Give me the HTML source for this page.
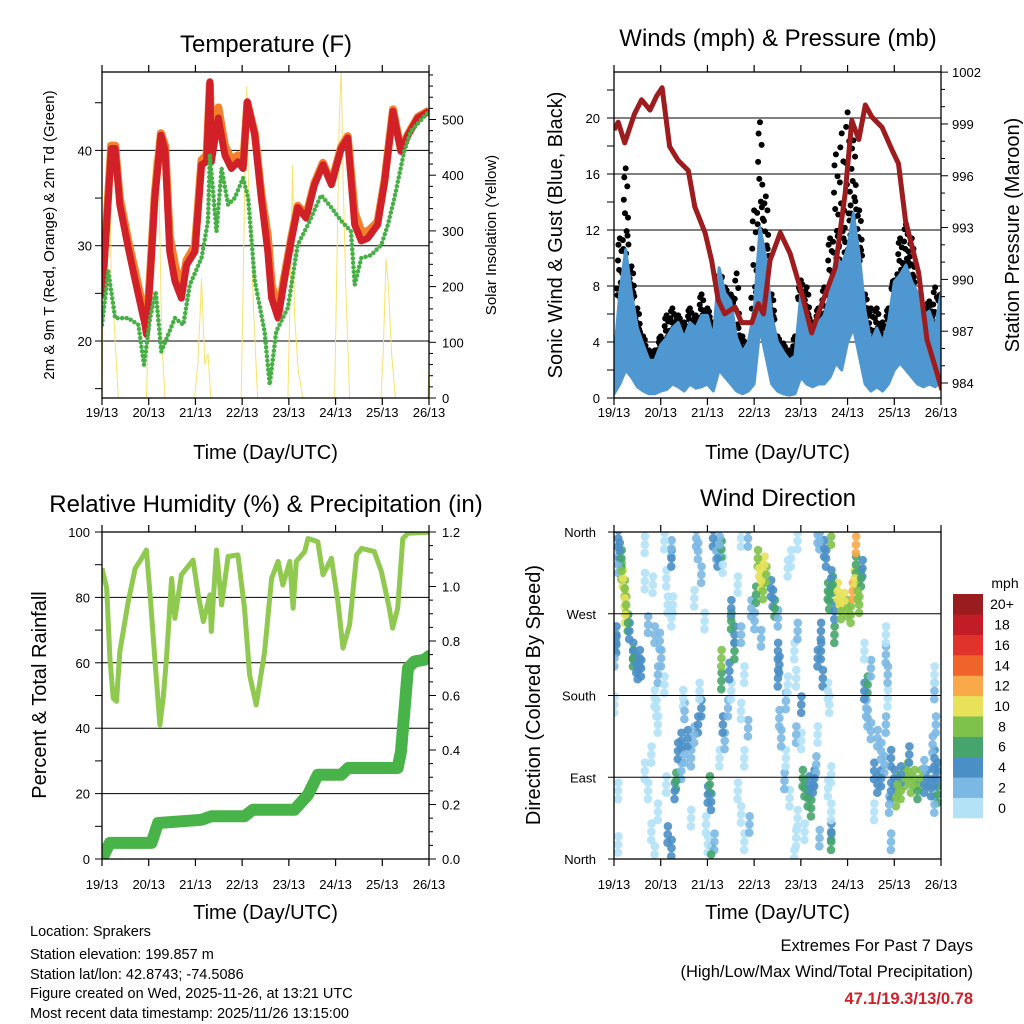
<!DOCTYPE html>
<html><head><meta charset="utf-8"><style>
body{margin:0;background:#fff}
svg{display:block;font-family:"Liberation Sans",Arial,sans-serif}
</style></head><body>
<svg id="s" width="1024" height="1024" viewBox="0 0 1024 1024">
<defs>
<clipPath id="c1"><rect x="102" y="72" width="327" height="326"/></clipPath>
<clipPath id="c2"><rect x="614" y="72" width="327" height="326"/></clipPath>
<clipPath id="c3"><rect x="102" y="532" width="327" height="327"/></clipPath>
<clipPath id="c4"><rect x="614" y="532" width="327" height="327"/></clipPath>
</defs>
<g id="g"></g>
</svg>
<script>
// ---------- data ----------
const dayLabels = ["19/13","20/13","21/13","22/13","23/13","24/13","25/13","26/13"];
const tempT = [0,0.135,0.2,0.28,0.38,0.56,0.7,0.92,0.95,1.03,1.13,1.26,1.35,1.45,1.56,1.7,1.81,1.99,2.13,2.24,2.31,2.34,2.49,2.63,2.77,2.91,3.02,3.11,3.27,3.41,3.55,3.63,3.77,3.91,4.05,4.19,4.37,4.55,4.73,4.91,5.12,5.26,5.41,5.55,5.69,5.9,6.05,6.23,6.4,6.55,6.76,7.0];
const temp2m = [24.5,35,40.2,40.2,34.3,29.8,26.6,21.7,20.7,26.6,35,41.6,40,29.4,26.3,24.5,28,29.4,38.5,38.8,47.2,38.8,43.4,39.5,38.1,38.8,38.1,45.1,41.6,35,29.4,24.5,22.4,26.6,30.5,34,32.9,36.4,38.5,36.4,40.2,41.3,32.2,30.5,30.8,32.2,36.7,44.1,39.9,41.6,43.4,44.1];
const temp9m = [25,35.5,40.5,40.5,35,30.5,27.5,22.5,21.5,27,35.5,41.8,40.5,31,28,25.5,28.5,30,39,39.5,47,40,44.5,40.5,39,39.5,38.5,45,41.8,35.5,31,26,23,27,30.8,34.2,33.2,36.6,38.7,36.6,40.4,41.5,33.5,31.5,31.5,32.5,36.9,44.3,40,41.7,43.5,44.2];
const dewT = [0,0.135,0.28,0.56,0.78,0.9,1.03,1.15,1.27,1.56,1.74,1.88,2.13,2.27,2.31,2.45,2.56,2.7,2.84,3.02,3.13,3.27,3.48,3.59,3.73,3.98,4.19,4.41,4.69,4.91,5.12,5.33,5.41,5.55,5.76,5.98,6.12,6.26,6.47,6.61,7.0];
const dewPt = [21.7,27.3,22.4,22.4,21.7,17.5,22.4,25.2,18.9,22.4,21.7,25.9,28.7,32.6,39.5,31.5,38.1,34.3,35,37.1,35,26.3,21,15.4,21,23.5,30.1,32.2,35.3,34,32.6,31.5,25.9,28.7,29,30.1,32.2,35,39.9,42,44.1];
const solarT = [0,0.02,0.05,0.08,0.12,0.16,0.2,0.25,0.35,0.95,1.0,1.1,1.15,1.2,1.28,1.35,1.98,2.05,2.1,2.13,2.2,2.27,2.33,2.98,3.02,3.06,3.1,3.13,3.18,3.25,3.33,3.98,4.03,4.08,4.12,4.2,4.3,4.98,5.03,5.08,5.12,5.16,5.22,5.3,5.97,6.02,6.08,6.13,6.2,6.28,6.97,7.0];
const solarV = [0,150,300,380,460,450,200,150,0,0,150,430,300,470,100,0,0,60,150,215,60,80,0,0,200,400,560,400,300,150,0,0,200,418,150,50,0,0,250,500,590,400,200,0,0,80,250,200,80,0,0,50];
const presT = [0,0.09,0.23,0.44,0.59,0.77,0.91,1.03,1.19,1.37,1.59,1.73,1.95,2.09,2.23,2.37,2.59,2.73,2.95,3.09,3.2,3.34,3.56,3.77,4.02,4.23,4.45,4.74,4.95,5.09,5.24,5.38,5.52,5.74,5.95,6.09,6.24,6.52,6.7,6.88,7.02];
const presV = [998.65,999.1,997.9,999.6,1000.4,999.8,1000.6,1001.1,997.7,996.9,996.3,994.2,992.7,991.1,988.8,988.0,988.4,987.5,987.5,988.6,988.0,991.1,992.7,991.5,989.2,986.9,988.6,990.7,995.0,999.2,998.1,1000.1,999.4,998.8,997.5,996.7,993.4,990.4,986.5,984.9,983.6];
const windHigh = [2.7,7.5,10.6,7.5,5,3.8,2.7,2.7,3.8,4.3,5,5.4,4.3,5.4,5,5.9,5.9,4.3,9.3,7.5,6.9,4.3,3.3,4,6.2,12.2,10,5.9,4,3.3,2.7,3,7.5,5.9,5,5.4,5.9,7.5,10.2,9.5,10.7,13.2,10.2,6.2,4,5,4,5.4,8.3,8.8,9.5,8.3,7.5,5.9,6.2,5,7.5];
const windLow = [0.3,1,2,1.5,0.8,0.5,0.3,0.3,0.5,0.6,1,0.8,0.5,1,0.7,0.8,1,0.5,2,1.5,1,0.5,0.3,0.5,1,5,3,1,0.5,0.3,0.2,0.3,1.5,1,0.8,1,1,1.5,2.5,2,4,5,3,1,0.5,0.8,0.5,1,2,2.5,2,1.5,1,0.8,1,0.8,1.2];
const gustMax = [4,12,17,10,7,5,4,4,5,6.5,7,6.5,6,7,6.5,8,7,6,9,8.5,8,9.5,5,4.5,14,20.3,15,8,5,4.5,4,5,9,8.5,6,7,8.5,12,18,19.5,21,19,14,8,7,7,6,7,9,12,13,12,8,7,7.5,8.5,8];
const rhT = [0,0.1,0.17,0.24,0.31,0.38,0.56,0.71,0.85,0.95,1.03,1.13,1.24,1.31,1.38,1.49,1.56,1.7,1.95,2.06,2.17,2.31,2.34,2.45,2.56,2.7,2.91,3.05,3.16,3.3,3.48,3.63,3.77,3.87,4.02,4.09,4.16,4.34,4.41,4.62,4.73,4.91,5.05,5.16,5.3,5.45,5.56,5.83,5.98,6.15,6.22,6.33,6.44,6.55,7.0];
const rhV = [88.9,82.8,61.4,49.2,48.2,63.4,78.7,88.9,92,94.5,80.8,61.4,41,49.2,61.4,85.8,73.6,86.9,91.4,80.8,72.6,80.8,69.6,94.5,77.7,92.5,93,76.7,56.3,47.1,63.4,85.8,91,83.8,91,76.7,91,94,98,97,86.9,92,78.7,64.5,71.6,93,95,94,87.9,76.7,70.6,76.7,98,99.6,99.9];
const rainT = [0,0.17,1.06,1.2,2.13,2.34,3.05,3.23,4.12,4.41,4.62,5.12,5.27,6.33,6.4,6.55,6.69,6.9,7.0];
const rainV = [0,0.059,0.059,0.132,0.144,0.157,0.157,0.181,0.181,0.236,0.309,0.309,0.334,0.334,0.395,0.701,0.725,0.731,0.745];
const dirT = [.09,.12,.09,.16,.19,.16,.23,.23,.26,.24,.30,.33,.05,.05,.01,.41,.41,.48,.51,.55,.58,.01,.09,.09,.66,
.66,.83,.73,.87,.98,1.01,.94,1.08,.87,.91,.94,.80,.66,.73,.94,.80,.87,1.08,1.23,1.12,1.15,1.23,
1.15,1.23,1.30,1.33,1.37,1.44,1.51,1.58,1.65,1.51,1.48,1.44,1.12,1.26,1.23,
1.72,1.80,1.87,1.83,1.76,1.80,1.87,1.72,1.94,2.01,2.05,2.08,1.97,2.01,2.08,2.15,1.65,
2.12,2.19,2.30,2.22,2.33,2.26,2.51,2.51,2.58,2.58,2.30,2.30,2.47,2.44,2.33,2.37,2.26,2.51,2.72,2.87,2.65,2.72,2.79,2.72,2.87,2.79,2.65,2.72,2.79,2.90,
3.08,3.11,3.15,3.19,3.22,3.04,3.26,3.36,3.40,3.44,2.94,3.01,3.15,3.51,3.51,3.54,3.51,3.72,3.68,3.54,3.58,3.68,3.65,3.76,3.79,3.93,3.72,3.86,3.90,
3.93,4.01,3.90,4.01,4.04,4.08,4.15,4.18,4.22,4.26,4.29,4.33,3.93,3.90,3.86,4.08,
4.36,4.40,4.65,4.50,4.54,4.65,4.68,4.58,4.61,4.72,4.72,4.43,4.43,4.47,4.36,4.58,4.61,4.36,4.65,4.65,4.65,4.65,4.40,4.58,
4.79,4.83,4.86,4.93,5.00,5.11,5.15,5.18,5.22,5.25,5.29,5.32,5.18,5.07,5.36,5.43,5.36,5.50,5.40,5.50,5.43,
5.64,5.72,5.57,5.64,5.72,5.79,5.82,5.82,5.86,5.86,5.82,5.93,5.93,5.89,5.93,5.57,6.00,
6.07,6.14,6.22,6.29,6.36,6.43,6.50,6.57,6.64,6.71,6.79,6.86,6.93,6.86,6.93,6.86,6.86,6.86,6.89,6.82,6.32,6.14,6.04,6.64];
const dirDeg = [353,339,324,331,309,317,298,287,280,269,260,251,247,236,221,229,221,214,207,221,210,170,75,16,346,
306,302,258,247,240,221,203,192,177,166,148,115,97,75,52,30,5,350,342,309,280,265,
27,12,75,86,119,130,115,133,111,163,177,97,82,280,331,
137,148,166,185,353,339,313,287,262,71,82,63,38,16,5,19,45,
353,339,341,331,324,346,276,262,247,229,221,196,207,166,148,130,111,185,353,353,302,247,203,163,144,111,75,49,19,38,
331,320,306,295,324,291,313,298,287,276,276,262,243,265,229,214,199,192,174,155,133,111,86,67,331,350,320,229,199,
251,170,137,130,89,78,67,82,56,82,89,104,45,23,1,30,
357,350,355,342,331,309,302,295,284,273,247,251,229,199,221,185,170,137,93,52,30,19,23,78,
295,280,273,284,276,295,309,346,295,280,309,320,324,269,229,192,185,210,166,141,155,
133,119,97,82,89,104,247,225,203,177,148,111,75,60,19,52,89,
82,75,89,97,82,89,75,89,82,89,78,89,97,111,71,60,185,203,148,126,115,93,67,100];
const dirSpd = [5,5,3,7,11,9,9,11,9,11,7,5,5,5,3,5,7,5,5,5,5,1,1,1,1,
1,1,3,3,3,3,3,1,1,1,1,1,1,1,1,1,1,1,3,1,1,1,
5,5,5,7,5,5,3,5,3,3,1,3,1,1,5,
3,5,5,1,3,3,3,1,1,5,7,5,1,1,7,3,1,
5,3,7,5,1,3,5,7,5,7,9,7,5,3,5,3,1,1,1,3,1,3,1,1,3,1,1,1,1,3,
9,11,11,9,11,7,9,5,5,7,3,3,3,3,5,5,5,1,3,3,3,1,3,1,1,1,1,1,1,
3,5,3,1,7,7,7,5,7,5,5,3,1,1,1,1,
3,3,9,5,5,5,7,7,7,5,7,5,5,5,5,1,1,1,1,1,5,7,3,1,
11,11,9,11,9,13,11,13,9,9,7,5,7,9,1,7,5,3,3,3,3,
3,3,5,5,5,3,1,3,3,1,3,5,5,3,3,1,5,
9,9,9,9,9,9,7,9,5,5,5,5,5,5,7,3,3,1,3,3,5,5,9,3];
const speedColors = ["#b3e2f7","#7bb8e4","#4a8fc6","#45a56c","#7fc24b","#e8e25a","#f9a84a","#f0632a","#e0332c","#c21d26","#9b1c1f"];
const speedLabels = ["0","2","4","6","8","10","12","14","16","18","20+"];

// ---------- helpers ----------
const NS="http://www.w3.org/2000/svg";
const root=document.getElementById('g');
function mk(tag,attrs,parent){const e=document.createElementNS(NS,tag);for(const k in attrs)e.setAttribute(k,attrs[k]);(parent||root).appendChild(e);return e;}
function txt(str,x,y,size,anchor,parent,extra){const e=mk('text',Object.assign({x:x,y:y,'font-size':size,'text-anchor':anchor||'middle',fill:'#000'},extra||{}),parent);e.textContent=str;return e;}
function grp(name,clip){const g=mk('g',clip?{'clip-path':'url(#'+clip+')'}:{});return g;}
function pts(ts,vs,fx,fy){return ts.map((t,i)=>fx(t).toFixed(1)+','+fy(vs[i]).toFixed(1)).join(' ');}

const P1={x0:102,x1:429,y0:72,y1:398}, P2={x0:614,x1:941,y0:72,y1:398}, P3={x0:102,x1:429,y0:532,y1:859}, P4={x0:614,x1:941,y0:532,y1:859};
const xs=P=>d=>P.x0+(P.x1-P.x0)*d/7;
const yT=t=>341-(t-20)*9.53, yS=s=>398-s*0.557;
const yW=m=>398-m*14, yP=p=>383-(p-984)*17.27;
const yR=r=>859-r*3.27, yIn=v=>859-v*272.5;
const yD=d=>859-d*0.9083;

function xAxis(P,name,labY,titleY){
  const g=grp(name);const X=xs(P);
  dayLabels.forEach((lab,i)=>{
    const x=X(i);
    const tb=mk('line',{x1:x,x2:x,y1:P.y1,y2:P.y1+7,stroke:'#000','stroke-width':1.2},g);
    
    mk('line',{x1:x,x2:x,y1:P.y0,y2:P.y0-7,stroke:'#000','stroke-width':1.2},g);
    const t=txt(lab,x,labY,13,'middle',g);
    
  });
  const tt=txt('Time (Day/UTC)',(P.x0+P.x1)/2,titleY,20,'middle',g);
  
}
function frame(P,name){const r=mk('rect',{x:P.x0,y:P.y0,width:P.x1-P.x0,height:P.y1-P.y0,fill:'none',stroke:'#000','stroke-width':1.3});}
function hgrid(P,ys){ys.forEach(y=>{const l=mk('line',{x1:P.x0,x2:P.x1,y1:y,y2:y,stroke:'#000','stroke-width':1});});}
function ticks(x,ys,len,g){ys.forEach(y=>mk('line',{x1:x,x2:x+len,y1:y,y2:y,stroke:'#000','stroke-width':1},g));}
function vtitle(str,x,y,size,name){const t=txt(str,x,y,size,'middle',root,{transform:'rotate(-90 '+x+' '+y+')'});}

// ---------- Panel 1: Temperature ----------
(function(){
  const X=xs(P1);
  const t=txt('Temperature (F)',266,52,24);
  hgrid(P1,[20,30,40].map(yT));
  const g=grp('temperature-plot','c1');
  const sol=mk('polyline',{points:pts(solarT,solarV,X,yS),fill:'none',stroke:'#f7e26b','stroke-width':1},g);
  
  const o=mk('polyline',{points:pts(tempT,temp9m,X,yT),fill:'none',stroke:'#f4802c','stroke-width':8,'stroke-linejoin':'round'},g);
  
  const r=mk('polyline',{points:pts(tempT,temp2m,X,yT),fill:'none',stroke:'#d12027','stroke-width':7,'stroke-linejoin':'round'},g);
  
  const d=mk('polyline',{points:pts(dewT,dewPt,X,yT),fill:'none',stroke:'#46b046','stroke-width':4.5,'stroke-dasharray':'0 4.5','stroke-linecap':'round'},g);
  
  frame(P1,'temperature-frame');
  const ax=grp('temperature-y-axes');
  [15,25,35,45].forEach(v=>ticks(P1.x0,[yT(v)],-7,ax));
  [20,30,40].forEach(v=>{ticks(P1.x0,[yT(v)],-7,ax);txt(String(v),92,yT(v)+5,13,'end',ax);});
  for(let s=0;s<=580;s+=20){ticks(P1.x1,[yS(s)],s%100===0?7:4,ax);}
  [0,100,200,300,400,500].forEach(s=>txt(String(s),442,yS(s)+5,13,'start',ax));
  xAxis(P1,'temperature-x-axis',417,459);
  vtitle('2m & 9m T (Red, Orange) & 2m Td (Green)',54,235,15,'temperature-y-title');
  vtitle('Solar Insolation (Yellow)',496,235,15,'solar-y-title');
})();

// ---------- Panel 2: Winds ----------
(function(){
  const X=xs(P2);
  const t=txt('Winds (mph) & Pressure (mb)',778,46,24);
  hgrid(P2,[4,8,12,16,20].map(yW));
  const g=grp('winds-plot','c2');
  const n=windHigh.length, dt=7/(n-1);
  const offs=[[-0.05,0.1],[0.02,0.3],[-0.015,0.5],[0.035,0.8],[0,1.0],[-0.03,0.9],[0.05,0.45],[-0.06,0.2],[0.06,0.15],[0.01,0.05],[-0.04,0.65],[0.04,0.25]];
  for(let i=0;i<n;i++){
    offs.forEach(o=>{
      const m=windHigh[i]+(gustMax[i]-windHigh[i])*o[1]-0.6;
      const c=mk('circle',{cx:X(i*dt+o[0]),cy:yW(m),r:3,fill:'#000'},g);
      
    });
  }
  const tt=[];for(let i=0;i<n;i++)tt.push(i*dt);
  const up=tt.map((d,i)=>X(d).toFixed(1)+','+yW(windHigh[i]).toFixed(1));
  const lo=tt.map((d,i)=>X(d).toFixed(1)+','+yW(windLow[i]).toFixed(1)).reverse();
  const b=mk('polygon',{points:up.concat(lo).join(' '),fill:'#4f97d0',stroke:'#4f97d0','stroke-width':3,'stroke-linejoin':'round'},g);
  
  const p=mk('polyline',{points:pts(presT,presV,X,yP),fill:'none',stroke:'#9e1b1e','stroke-width':5,'stroke-linejoin':'round'},g);
  
  frame(P2,'winds-frame');
  const ax=grp('winds-y-axes');
  for(let m=0;m<=22;m+=2){ticks(P2.x0,[yW(m)],-7,ax);}
  [0,4,8,12,16,20].forEach(m=>txt(String(m),600,yW(m)+5,13,'end',ax));
  for(let p=984;p<=1002;p++){ticks(P2.x1,[yP(p)],(p-984)%3===0?7:4,ax);}
  [984,987,990,993,996,999,1002].forEach(p=>txt(String(p),952,yP(p)+5,13,'start',ax));
  xAxis(P2,'winds-x-axis',417,459);
  vtitle('Sonic Wind & Gust (Blue, Black)',562,235,20,'winds-y-title');
  vtitle('Station Pressure (Maroon)',1019,235,20,'pressure-y-title');
})();

// ---------- Panel 3: RH & precip ----------
(function(){
  const X=xs(P3);
  const t=txt('Relative Humidity (%) & Precipitation (in)',266,512,24);
  hgrid(P3,[20,40,60,80].map(yR));
  const g=grp('humidity-plot','c3');
  const r=mk('polyline',{points:pts(rhT,rhV,X,yR),fill:'none',stroke:'#8fc94f','stroke-width':5,'stroke-linejoin':'round'},g);
  
  const p=mk('polyline',{points:pts(rainT,rainV,X,yIn),fill:'none',stroke:'#48b348','stroke-width':12,'stroke-linejoin':'round','stroke-linecap':'round'},g);
  
  frame(P3,'humidity-frame');
  const ax=grp('humidity-y-axes');
  for(let v=0;v<=100;v+=10){ticks(P3.x0,[yR(v)],-7,ax);}
  [0,20,40,60,80,100].forEach(v=>txt(String(v),90,yR(v)+5,13,'end',ax));
  for(let v=0;v<=1.2001;v+=0.05){ticks(P3.x1,[yIn(v)],Math.abs(v*5-Math.round(v*5))<0.01?7:4,ax);}
  [0,0.2,0.4,0.6,0.8,1.0,1.2].forEach(v=>txt(v.toFixed(1),442,yIn(v)+5,13,'start',ax));
  xAxis(P3,'humidity-x-axis',889,919);
  vtitle('Percent & Total Rainfall',46,695,20,'humidity-y-title');
})();

// ---------- Panel 4: Wind direction ----------
(function(){
  const X=xs(P4);
  const t=txt('Wind Direction',778,506,24);
  const g=grp('wind-direction-plot','c4');
  const ghost=[[0.004,9],[-0.004,-9],[0,0]];
  ghost.forEach(gh=>{
    for(let i=0;i<dirT.length;i++){
      const bin=Math.min(10,Math.floor(dirSpd[i]/2));
      const c=mk('circle',{cx:X(dirT[i]+gh[0]),cy:yD(dirDeg[i]+gh[1]),r:4.3,fill:speedColors[bin],'fill-opacity':0.9},g);
      
      
    }
  });
  hgrid(P4,[270,180,90].map(yD));
  frame(P4,'wind-direction-frame');
  const ax=grp('wind-direction-y-axis');
  [['North',360],['West',270],['South',180],['East',90],['North',0]].forEach(a=>{ticks(P4.x0,[yD(a[1])],-6,ax);txt(a[0],596,yD(a[1])+5,13,'end',ax);});
  xAxis(P4,'wind-direction-x-axis',889,919);
  vtitle('Direction (Colored By Speed)',540,695,20,'wind-direction-y-title');
  const lg=grp('speed-legend');
  txt('mph',1005,588,14,'middle',lg);
  const bh=(818-594)/11;
  for(let i=0;i<11;i++){
    const y=818-(i+1)*bh;
    const r=mk('rect',{x:953,y:y,width:30,height:bh+0.3,fill:speedColors[i]},lg);
    
    txt(speedLabels[i],1002,y+bh/2+5,14,'middle',lg);
  }
})();

// ---------- footer text ----------
(function(){
  const g=grp('station-info');
  ['Location: Sprakers','Station elevation: 199.857 m','Station lat/lon: 42.8743; -74.5086','Figure created on Wed, 2025-11-26, at 13:21 UTC','Most recent data timestamp: 2025/11/26 13:15:00'].forEach((s,i)=>txt(s,30,[936,959,979,998,1018][i],14.5,'start',g));
  const e=grp('extremes-summary');
  txt('Extremes For Past 7 Days',973,951,16.5,'end',e);
  txt('(High/Low/Max Wind/Total Precipitation)',973,977,16.5,'end',e);
  txt('47.1/19.3/13/0.78',973,1004,16.5,'end',e,{fill:'#d12027','font-weight':'bold'});
})();
</script>
</body></html>
